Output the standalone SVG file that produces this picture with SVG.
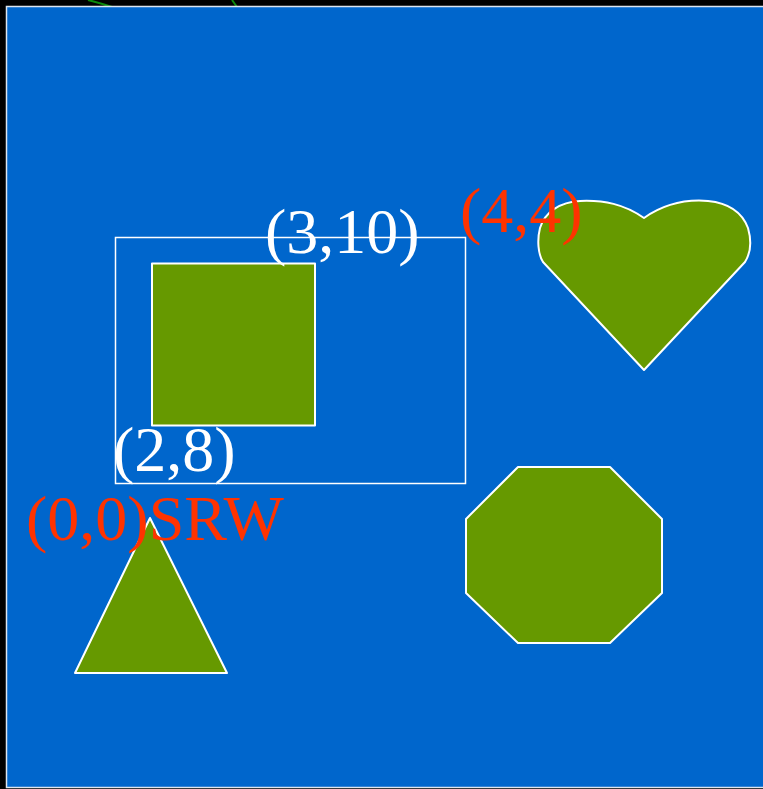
<svg xmlns="http://www.w3.org/2000/svg" width="763" height="789" viewBox="0 0 763 789">
  <style>
    .shape { fill: #669900; stroke: #ffffff; stroke-width: 2; stroke-linejoin: round; }
    .label { font-family: "Liberation Serif", "Times New Roman", serif; font-size: 64px; }
    .white { fill: #ffffff; }
    .red { fill: #ff3300; }
  </style>
  <rect x="0" y="0" width="763" height="789" fill="#000000"/>
  <!-- stray strokes above the panel -->
  <g id="edges" stroke="#0a8a0a" stroke-width="2" fill="none">
    <path d="M88,0 Q100,3 112,7"/>
    <path d="M232,0 L237,7"/>
  </g>
  <!-- main panel -->
  <rect x="6.5" y="6.5" width="762" height="781" fill="#0066cc" stroke="#dde6ef" stroke-width="1.5"/>

  <g id="frame">
    <rect x="115.5" y="237.5" width="350" height="246" fill="none" stroke="#ffffff" stroke-width="1.5"/>
  </g>
  <g id="square">
    <rect class="shape" x="152" y="263.5" width="163" height="162"/>
  </g>
  <g id="heart">
    <path class="shape" d="M644,218 C624,204 604,200 580,201 C560,202 545,212 540,228 C537,240 538,254 543,262 L644,370 L745,262 C750,254 752,242 748,228 C742,212 728,203 708,201 C684,199 664,204 644,218 Z"/>
  </g>
  <g id="octagon">
    <polygon class="shape" points="518,467 610,467 662,519 662,593 610,643 518,643 466,593 466,519"/>
  </g>
  <g id="triangle">
    <polygon class="shape" points="150,518 227,673 75,673"/>
  </g>

  <g id="labels">
    <text class="label white" x="265" y="253">(3,10)</text>
    <text class="label white" x="113" y="471">(2,8)</text>
    <text class="label red" x="460" y="232">(4,4)</text>
    <text class="label red" x="26" y="540">(0,0)SRW</text>
  </g>
</svg>
